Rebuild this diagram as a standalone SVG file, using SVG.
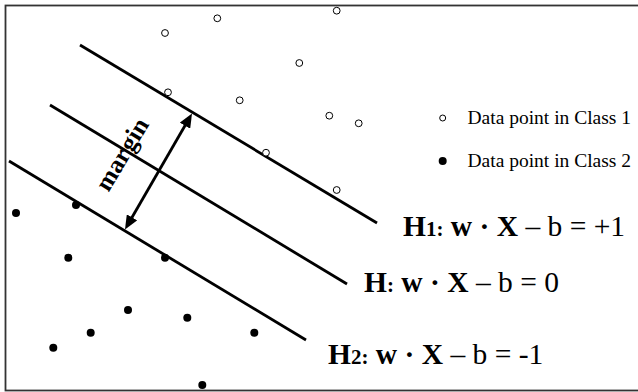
<svg xmlns="http://www.w3.org/2000/svg" width="638" height="392" viewBox="0 0 638 392">
<style>
.frame{fill:none;stroke:#333;stroke-width:1.8}
.hyp{stroke:#000;stroke-width:2.8;fill:none}
.c1{fill:#fff;stroke:#000;stroke-width:1}
.c2{fill:#000}
.t{font-family:"Liberation Serif","Times New Roman",serif;fill:#000}
.leg{font-size:19.5px}
.eq{font-size:29.5px}
.b{font-weight:bold}
.sm{font-size:21px;font-weight:bold}
.mg{font-size:25px;font-weight:bold}
</style>
<defs>
<marker id="ah" viewBox="0 0 14 12" markerWidth="14" markerHeight="12" markerUnits="userSpaceOnUse" refX="1" refY="6" orient="auto-start-reverse">
<path d="M0,0 L14,6 L0,12 z" fill="#000"/>
</marker>
</defs>
<rect class="frame" x="5.5" y="5.5" width="640" height="385"/>
<g id="connectors">
<line id="H1-line" class="hyp" x1="80" y1="45" x2="377" y2="223"/>
<line id="H-line" class="hyp" x1="50" y1="105" x2="347" y2="284"/>
<line id="H2-line" class="hyp" x1="9" y1="161" x2="306" y2="340"/>
<line id="margin-arrow" x1="131.5" y1="218.2" x2="185.5" y2="124.8" stroke="#000" stroke-width="2.8" marker-start="url(#ah)" marker-end="url(#ah)"/>
</g>
<g id="class1">
<circle class="c1" cx="217.3" cy="18.3" r="3.4"/>
<circle class="c1" cx="165" cy="33" r="3.4"/>
<circle class="c1" cx="299.3" cy="63" r="3.4"/>
<circle class="c1" cx="168" cy="92.3" r="3.4"/>
<circle class="c1" cx="239.7" cy="100.3" r="3.4"/>
<circle class="c1" cx="266" cy="152.7" r="3.4"/>
<circle class="c1" cx="336.7" cy="10.7" r="3.4"/>
<circle class="c1" cx="329.3" cy="115.7" r="3.4"/>
<circle class="c1" cx="358.7" cy="123.3" r="3.4"/>
<circle class="c1" cx="336.7" cy="190" r="3.4"/>
</g>
<g id="class2">
<circle class="c2" cx="16" cy="213" r="4"/>
<circle class="c2" cx="76" cy="205" r="4"/>
<circle class="c2" cx="68.3" cy="257.7" r="4"/>
<circle class="c2" cx="165" cy="257.7" r="4"/>
<circle class="c2" cx="128" cy="310" r="4"/>
<circle class="c2" cx="187.3" cy="317.7" r="4"/>
<circle class="c2" cx="90.7" cy="332.7" r="4"/>
<circle class="c2" cx="53.3" cy="347.7" r="4"/>
<circle class="c2" cx="254.3" cy="332.7" r="4"/>
<circle class="c2" cx="202.3" cy="385" r="4"/>
</g>
<g id="margin-label">
<text class="t mg" transform="translate(129,158.5) rotate(-59)" text-anchor="middle">mar<tspan dx="2">gin</tspan></text>
</g>
<g id="legend">
<circle class="c1" cx="442.7" cy="118" r="3"/>
<text class="t leg" x="467.5" y="124">Data point in Class 1</text>
<circle class="c2" cx="442.7" cy="161" r="4"/>
<text class="t leg" x="467.5" y="166.5">Data point in Class 2</text>
</g>
<g id="H1-label">
<text class="t eq" x="403" y="235.5"><tspan class="b">H</tspan><tspan class="sm">1:</tspan> <tspan class="b">w</tspan> <tspan class="b">·</tspan> <tspan class="b">X</tspan> – b = +1</text>
</g>
<g id="H-label">
<text class="t eq" x="364" y="292"><tspan class="b">H</tspan><tspan class="sm">:</tspan> <tspan class="b">w</tspan> <tspan class="b">·</tspan> <tspan class="b">X</tspan> – b = 0</text>
</g>
<g id="H2-label">
<text class="t eq" x="328" y="364"><tspan class="b">H</tspan><tspan class="sm">2:</tspan> <tspan class="b">w</tspan> <tspan class="b">·</tspan> <tspan class="b">X</tspan> – b = -1</text>
</g>
</svg>
